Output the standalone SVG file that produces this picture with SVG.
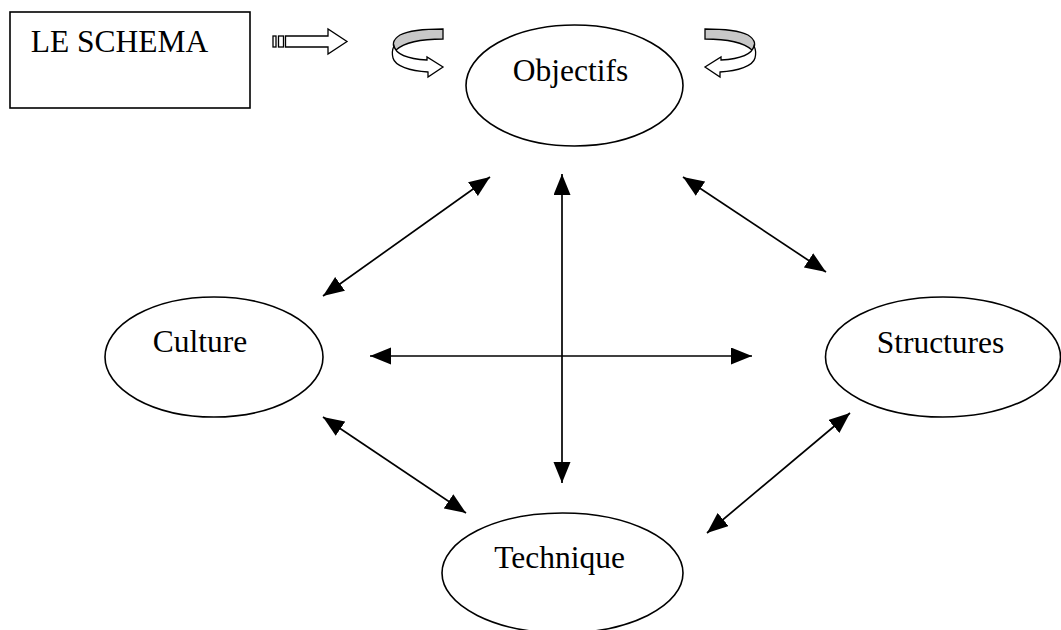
<svg xmlns="http://www.w3.org/2000/svg" width="1061" height="630" viewBox="0 0 1061 630">
<style>
.node{fill:#fff;stroke:#000;stroke-width:1.6}
.lbl{font-family:"Liberation Serif","Times New Roman",serif;font-size:31.5px;fill:#000;text-anchor:middle}
.conn{stroke:#000;stroke-width:1.7;fill:none;marker-start:url(#ah);marker-end:url(#ah)}
.blk{fill:#fff;stroke:#000;stroke-width:1.3;stroke-linejoin:miter}
.gray{fill:#c8c8c8;stroke:#000;stroke-width:1.3}
</style>
<defs>
<marker id="ah" markerUnits="userSpaceOnUse" markerWidth="22" markerHeight="18" refX="21" refY="8.5" orient="auto-start-reverse" viewBox="0 0 22 18">
<path d="M0,0 L21,8.5 L0,17 Z" fill="#000"/>
</marker>
<g id="curl">
<path class="gray" d="M443,29 L443,39 C425,39 405,42 396,50 C392,46 392,40 400,35 C410,30 425,29 443,29 Z"/>
<path class="blk" d="M394,46 C396,55 410,59 427,60 L427,57 L443,67 L428,77 L428,72 C410,71 395,66 393,58 C392,54 392,50 394,46 Z"/>
</g>
</defs>
<rect width="1061" height="630" fill="#fff"/>
<g id="schema">
<rect x="10" y="12" width="240" height="96" fill="#fff" stroke="#000" stroke-width="1.6"/>
<text class="lbl" x="119.5" y="52">LE SCHEMA</text>
</g>
<g id="striped-arrow">
<rect class="blk" x="273" y="36" width="3" height="11"/>
<rect class="blk" x="278.5" y="36" width="5" height="11"/>
<path class="blk" d="M285.5,36 L328,36 L328,29 L347,41.5 L328,54 L328,47 L285.5,47 Z"/>
</g>
<g id="curl-left"><use href="#curl"/></g>
<g id="curl-right"><use href="#curl" transform="translate(1148,0) scale(-1,1)"/></g>
<g id="objectifs">
<ellipse class="node" cx="574.5" cy="85.5" rx="108.5" ry="60.5"/>
<text class="lbl" x="570.5" y="81">Objectifs</text>
</g>
<g id="culture">
<ellipse class="node" cx="214" cy="357" rx="109" ry="60"/>
<text class="lbl" x="200" y="352">Culture</text>
</g>
<g id="structures">
<ellipse class="node" cx="943" cy="357" rx="117.5" ry="60"/>
<text class="lbl" x="940.5" y="353">Structures</text>
</g>
<g id="technique">
<ellipse class="node" cx="562.5" cy="573" rx="120.5" ry="60"/>
<text class="lbl" x="559.5" y="568">Technique</text>
</g>
<g id="connectors">
<line class="conn" x1="490" y1="177" x2="323" y2="296"/>
<line class="conn" x1="683" y1="177" x2="826" y2="272"/>
<line class="conn" x1="562" y1="174" x2="562" y2="483"/>
<line class="conn" x1="370" y1="356" x2="752" y2="356"/>
<line class="conn" x1="323" y1="417" x2="466" y2="513"/>
<line class="conn" x1="850" y1="413" x2="707" y2="533"/>
</g>
</svg>
